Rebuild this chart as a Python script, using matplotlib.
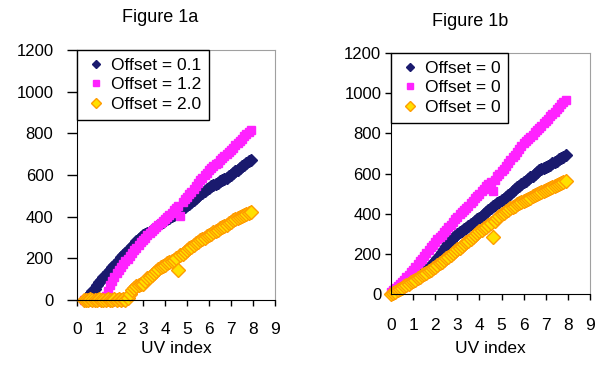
import matplotlib
matplotlib.use('Agg')
import matplotlib.pyplot as plt

plt.rcParams['font.family'] = ['Liberation Sans', 'DejaVu Sans']

# UV index readings, panel a (start at 0.3) and panel b (start at 0.0)
uv_a = [0.3, 0.4, 0.5, 0.6, 0.7, 0.8, 0.9,
        1.0, 1.1, 1.2, 1.3, 1.4, 1.5, 1.6, 1.7, 1.8, 1.9,
        2.0, 2.1, 2.2, 2.3, 2.4, 2.5, 2.6, 2.7, 2.8, 2.9,
        3.0, 3.1, 3.2, 3.3, 3.4, 3.5, 3.6, 3.7, 3.8, 3.9,
        4.0, 4.1, 4.2, 4.3, 4.4, 4.5, 4.6, 4.7, 4.8, 4.9,
        5.0, 5.1, 5.2, 5.3, 5.4, 5.5, 5.6, 5.7, 5.8, 5.9,
        6.0, 6.1, 6.2, 6.3, 6.4, 6.5, 6.6, 6.7, 6.8, 6.9,
        7.0, 7.1, 7.2, 7.3, 7.4, 7.5, 7.6, 7.7, 7.8, 7.9]
uv_b = [0.0, 0.1, 0.2] + uv_a

# Figure 1a series
a_off01 = [0, 10, 20, 30, 42, 55, 72,
           88, 98, 110, 122, 135, 146, 158, 168, 180, 193,
           205, 214, 226, 238, 247, 258, 270, 281, 292, 302,
           312, 318, 322, 328, 335, 342, 352, 360, 368, 376,
           382, 388, 395, 403, 410, 416, 424, 432, 440, 447,
           455, 462, 472, 482, 491, 500, 508, 516, 524, 532,
           540, 546, 552, 558, 564, 570, 576, 582, 588, 594,
           600, 610, 618, 626, 634, 641, 650, 658, 665, 672]
a_off12 = [0, 0, 0, 0, 0, 0, 0,
           0, 0, 0, 20, 45, 70, 90, 110, 128, 145,
           160, 172, 185, 198, 212, 225, 238, 252, 265, 278,
           290, 300, 310, 320, 330, 340, 350, 360, 370, 380,
           390, 400, 410, 420, 430, 440, 450, 405, 472, 484,
           495, 508, 520, 534, 548, 560, 574, 588, 600, 612,
           625, 633, 642, 652, 660, 670, 680, 690, 700, 710,
           720, 731, 742, 752, 764, 775, 786, 797, 808, 818]
a_off20 = [0, 2, 0, 3, 0, 2, 0,
           4, 0, 2, 0, 3, 0, 2, 5, 0, 3,
           0, 4, 2, 10, 30, 50, 60, 68, 72, 75,
           78, 92, 105, 112, 120, 128, 140, 150, 158, 165,
           170, 176, 182, 188, 194, 200, 144, 215, 222, 232,
           240, 248, 255, 262, 272, 280, 288, 295, 300, 306,
           312, 318, 325, 332, 338, 344, 350, 356, 362, 368,
           375, 382, 388, 393, 398, 403, 408, 413, 418, 424]

# Figure 1b series
b_off1 = [0, 5, 12, 18, 25, 32, 40, 47, 55, 62,
          70, 78, 86, 94, 102, 110, 120, 130, 142, 153,
          165, 180, 195, 210, 225, 240, 252, 265, 278, 290,
          300, 307, 314, 322, 330, 339, 347, 355, 363, 372,
          380, 390, 400, 410, 420, 430, 437, 444, 451, 458,
          467, 475, 483, 491, 499, 515, 523, 532, 540, 549,
          557, 565, 573, 582, 590, 598, 606, 615, 620, 626,
          632, 638, 644, 650, 657, 664, 670, 677, 684, 690]
b_off2 = [10, 20, 30, 40, 50, 60, 72, 84, 96, 108,
          120, 134, 148, 162, 176, 190, 204, 218, 232, 246,
          260, 272, 284, 296, 308, 320, 333, 346, 359, 372,
          385, 396, 407, 418, 429, 440, 452, 464, 476, 488,
          500, 512, 524, 536, 548, 560, 515, 570, 590, 600,
          610, 624, 638, 652, 666, 680, 694, 708, 722, 736,
          750, 761, 772, 783, 794, 805, 816, 827, 838, 849,
          860, 872, 884, 896, 908, 920, 932, 944, 955, 965]
b_off3 = [0, 6, 12, 18, 24, 31, 38, 45, 52, 58,
          65, 72, 79, 86, 93, 100, 107, 114, 121, 128,
          135, 143, 152, 160, 169, 177, 186, 195, 205, 214,
          222, 231, 240, 249, 258, 266, 275, 284, 293, 302,
          312, 320, 328, 336, 344, 352, 285, 365, 378, 390,
          398, 405, 412, 419, 426, 433, 440, 447, 453, 460,
          465, 470, 475, 480, 486, 492, 498, 504, 510, 514,
          518, 523, 528, 533, 538, 543, 548, 553, 558, 563]

labels_a = ['Offset = 0.1', 'Offset = 1.2', 'Offset = 2.0']
labels_b = ['Offset = 0', 'Offset = 0', 'Offset = 0']

navy = dict(marker='D', color='#1A1A6E', markersize=5.8, linestyle='none')
pink = dict(marker='s', color='#FF22FF', markersize=6.2, linestyle='none')
yell = dict(marker='D', markerfacecolor='#FFE000', markeredgecolor='#FF9C00',
            markeredgewidth=1.0, markersize=6.8, linestyle='none')

fig = plt.figure(figsize=(6.02, 3.65), dpi=100)
ax1 = fig.add_axes([77/602, 65/365, 198/602, 250/365])
ax2 = fig.add_axes([391/602, 71/365, 199/602, 241/365])


def style(ax, ylen, ypad, xpad, lpad):
    ax.set_xlim(0, 9)
    ax.set_ylim(0, 1200)
    ax.set_xticks(range(10))
    ax.set_yticks(range(0, 1201, 200))
    ax.tick_params(axis='y', length=ylen, width=1, pad=ypad, labelsize=12)
    ax.tick_params(axis='x', length=4, width=1, pad=xpad, labelsize=12.5)
    for s in ['top', 'right']:
        ax.spines[s].set_color('#A0A0A0')
    for s in ['left', 'bottom']:
        ax.spines[s].set_color('black')
    ax.set_xlabel('UV index', fontsize=12.5, labelpad=lpad)


for ax, x, ys, labs in [(ax1, uv_a, [a_off01, a_off12, a_off20], labels_a),
                        (ax2, uv_b, [b_off1, b_off2, b_off3], labels_b)]:
    for y, st, lab in zip(ys, [navy, pink, yell], labs):
        ax.plot(x, y, label=lab, clip_on=False, **st)
    lg = ax.legend(loc='upper left', borderaxespad=0, fancybox=False,
                   edgecolor='black', framealpha=1, fontsize=12.5,
                   handlelength=1.3, handletextpad=0.2, labelspacing=0.25,
                   borderpad=0.45, markerscale=0.75)
    lg.get_frame().set_linewidth(1)

style(ax1, 7, 10, 12, 3)
style(ax2, 4, 3, 13, 6)

fig.text(160/602, 1 - 18/365, 'Figure 1a', ha='center', va='center', fontsize=13)
fig.text(470/602, 1 - 22/365, 'Figure 1b', ha='center', va='center', fontsize=13)

fig.savefig('out.png', dpi=100, facecolor='white')
